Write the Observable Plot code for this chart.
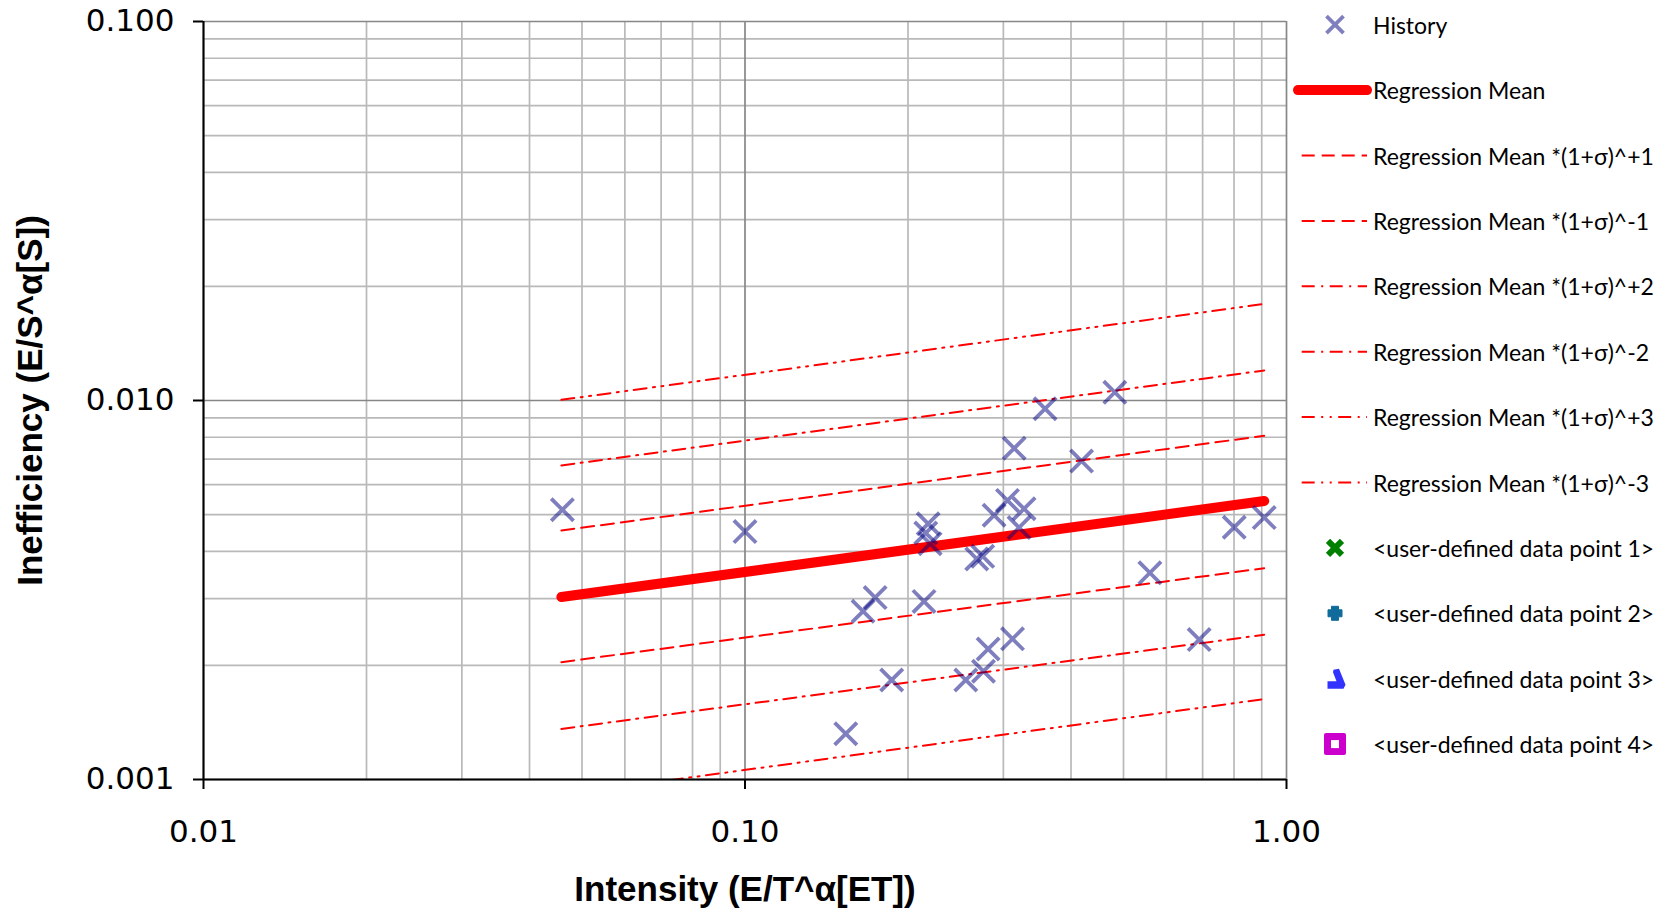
<!DOCTYPE html>
<html><head><meta charset="utf-8">
<script src="https://cdn.jsdelivr.net/npm/d3@7"></script>
<script src="https://cdn.jsdelivr.net/npm/@observablehq/plot@0.6"></script>
<style>
html,body{margin:0;padding:0;background:#fff;}
#wrap{position:relative;width:1675px;height:909px;overflow:hidden;}
#wrap svg.legend{position:absolute;left:0;top:0;pointer-events:none;}
</style></head><body><div id="wrap"></div>
<script>
// ---- data ----
const historyX = [0.0460, 0.1000, 0.2179, 0.2157, 0.2197, 0.1739, 0.1652, 0.2141, 0.1866, 0.1535,
                  0.2557, 0.2757, 0.2812, 0.3119, 0.2679, 0.2748, 0.2884, 0.3053, 0.3276, 0.3207,
                  0.3141, 0.3582, 0.4183, 0.4819, 0.5594, 0.6898, 0.8007, 0.9096];
const historyY = [0.00515, 0.00451, 0.00473, 0.00447, 0.00419, 0.00302, 0.00278, 0.00295, 0.00183, 0.00132,
                  0.00183, 0.00193, 0.00221, 0.00235, 0.00382, 0.00388, 0.00498, 0.00545, 0.00518, 0.00462,
                  0.00748, 0.00951, 0.00692, 0.01051, 0.00351, 0.00234, 0.00463, 0.00491];
const regressionX = [0.0458, 0.9096];
const meanY   = [0.00303, 0.00543];
const plus1Y  = [0.00454, 0.00807];
const minus1Y = [0.00204, 0.00361];
const plus2Y  = [0.00674, 0.01200];
const minus2Y = [0.00136, 0.00241];
const plus3Y  = [0.01004, 0.01798];
const minus3Y = [0.00091, 0.00163];
const xTicks = [0.01, 0.1, 1];
const xTickLabels = ["0.01", "0.10", "1.00"];
const yTicks = [0.001, 0.01, 0.1];
const yTickLabels = ["0.001", "0.010", "0.100"];
const minorMultipliers = [2, 3, 4, 5, 6, 7, 8, 9];
const xTitle = "Intensity (E/T^α[ET])";
const yTitle = "Inefficiency (E/S^α[S])";
const legendLabels = [
  "History",
  "Regression Mean",
  "Regression Mean *(1+σ)^+1",
  "Regression Mean *(1+σ)^-1",
  "Regression Mean *(1+σ)^+2",
  "Regression Mean *(1+σ)^-2",
  "Regression Mean *(1+σ)^+3",
  "Regression Mean *(1+σ)^-3",
  "<user-defined data point 1>",
  "<user-defined data point 2>",
  "<user-defined data point 3>",
  "<user-defined data point 4>"
];

// ---- build tables ----
const history = historyX.map((x, i) => ({x, y: historyY[i]}));
const toLine = ys => regressionX.map((x, i) => ({x, y: ys[i]}));
const dashA = "13,7";
const dashB = "13,6.5,2,6.5";
const dashC = "13,6.5,2,6.5,2,6.5";
const bands = [
  {data: toLine(plus1Y), dash: dashA},
  {data: toLine(minus1Y), dash: dashA},
  {data: toLine(plus2Y), dash: dashB},
  {data: toLine(minus2Y), dash: dashB},
  {data: toLine(plus3Y), dash: dashC},
  {data: toLine(minus3Y), dash: dashC}
];
const xMinor = xTicks.slice(0, -1).flatMap(d => minorMultipliers.map(m => d * m));
const yMinor = yTicks.slice(0, -1).flatMap(d => minorMultipliers.map(m => d * m));

const chart = Plot.plot({
  width: 1675, height: 909,
  marginLeft: 203, marginRight: 389, marginTop: 21, marginBottom: 130,
  x: {type: "log", domain: [0.01, 1]},
  y: {type: "log", domain: [0.001, 0.1]},
  style: {fontFamily: "'Liberation Sans', Arial, sans-serif", background: "white", color: "black"},
  marks: [
    Plot.gridX(xMinor, {stroke: "#b9b9b9", strokeOpacity: 1, strokeWidth: 1.7}),
    Plot.gridY(yMinor, {stroke: "#b9b9b9", strokeOpacity: 1, strokeWidth: 1.7}),
    Plot.gridX(xTicks, {stroke: "#878787", strokeOpacity: 1, strokeWidth: 1.7}),
    Plot.gridY(yTicks, {stroke: "#878787", strokeOpacity: 1, strokeWidth: 1.7}),
    ...bands.map(b => Plot.line(b.data, {x: "x", y: "y", stroke: "#ff0000", strokeWidth: 2, strokeDasharray: b.dash, clip: true})),
    Plot.line(toLine(meanY), {x: "x", y: "y", stroke: "#ff0000", strokeWidth: 10, strokeLinecap: "round"}),
    Plot.ruleX([xTicks[0]], {stroke: "black", strokeWidth: 2}),
    Plot.ruleY([yTicks[0]], {stroke: "black", strokeWidth: 2}),
    Plot.axisX(xTicks, {tickFormat: d => xTickLabels[xTicks.indexOf(d)], tickSize: 10, tickPadding: 30, fontSize: 31, fontFamily: "'DejaVu Sans', sans-serif", strokeWidth: 2, label: null}),
    Plot.axisY(yTicks, {tickFormat: d => yTickLabels[yTicks.indexOf(d)], tickSize: 10, tickPadding: 19, fontSize: 31, fontFamily: "'DejaVu Sans', sans-serif", strokeWidth: 2, label: null}),
    Plot.dot(history, {x: "x", y: "y", symbol: "times", r: 10.2, stroke: "#000080", strokeOpacity: 0.5, strokeWidth: 3.8}),
    Plot.text([xTitle], {frameAnchor: "bottom", dy: 110, text: d => d, fontSize: 35, fontWeight: "bold", textAnchor: "middle", lineAnchor: "middle"}),
    Plot.text([yTitle], {frameAnchor: "left", dx: -173, rotate: -90, text: d => d, fontSize: 35, fontWeight: "bold", textAnchor: "middle", lineAnchor: "middle"})
  ]
});
const wrap = document.getElementById("wrap");
wrap.appendChild(chart);

// ---- legend ----
const lg = d3.select(wrap).append("svg").attr("class", "legend")
  .attr("width", 1675).attr("height", 909)
  .style("font-family", "Lato, 'Open Sans', sans-serif").style("font-size", "23px");
const rowY = i => 24.7 + i * 65.4;
const mx = 1335, lx0 = 1300, lx1 = 1368, tx = 1373;
legendLabels.forEach((label, i) => {
  lg.append("text").attr("x", tx).attr("y", rowY(i)).attr("dominant-baseline", "central").attr("fill", "#000").text(label);
});
// History marker
lg.append("path").attr("transform", `translate(${mx},${rowY(0)})`)
  .attr("d", "M-8.5,-8.5L8.5,8.5M-8.5,8.5L8.5,-8.5").attr("stroke", "#000080").attr("stroke-opacity", 0.5).attr("stroke-width", 3.8).attr("fill", "none");
// mean
lg.append("line").attr("x1", 1298).attr("x2", 1367).attr("y1", rowY(1)).attr("y2", rowY(1))
  .attr("stroke", "#ff0000").attr("stroke-width", 10).attr("stroke-linecap", "round");
[dashA, dashA, dashB, dashB, dashC, dashC].forEach((d, k) => {
  lg.append("line").attr("x1", lx0 + 1.7).attr("x2", lx1 - 1).attr("y1", rowY(k + 2)).attr("y2", rowY(k + 2))
    .attr("stroke", "#ff0000").attr("stroke-width", 2).attr("stroke-dasharray", d);
});
// user-defined 1: green X
lg.append("path").attr("transform", `translate(${mx},${rowY(8)})`)
  .attr("d", "M-7,-7L7,7M-7,7L7,-7").attr("stroke", "#008000").attr("stroke-width", 6).attr("fill", "none");
// user-defined 2: teal plus
lg.append("path").attr("transform", `translate(${mx},${rowY(9)})`)
  .attr("d", "M-3.5,-7H3.5V-3.5H7V3.5H3.5V7H-3.5V3.5H-7V-3.5H-3.5Z").attr("fill", "#106b9a")
  .attr("stroke", "#106b9a").attr("stroke-width", 1).attr("stroke-linejoin", "round");
// user-defined 3: blue odd shape
lg.append("path").attr("transform", `translate(${mx},${rowY(10)})`)
  .attr("d", "M-1.5,-9L4,-10L10.5,6L8.5,10H-7.5V2.5H1.5L-2,-6.5Z").attr("fill", "#3333ff");
// user-defined 4: magenta square with white centre
lg.append("rect").attr("x", mx - 11).attr("y", rowY(11) - 11).attr("width", 22).attr("height", 22).attr("rx", 2).attr("fill", "#cc00cc");
lg.append("rect").attr("x", mx - 4).attr("y", rowY(11) - 4).attr("width", 8).attr("height", 8).attr("fill", "#fff");
</script>
</body></html>
